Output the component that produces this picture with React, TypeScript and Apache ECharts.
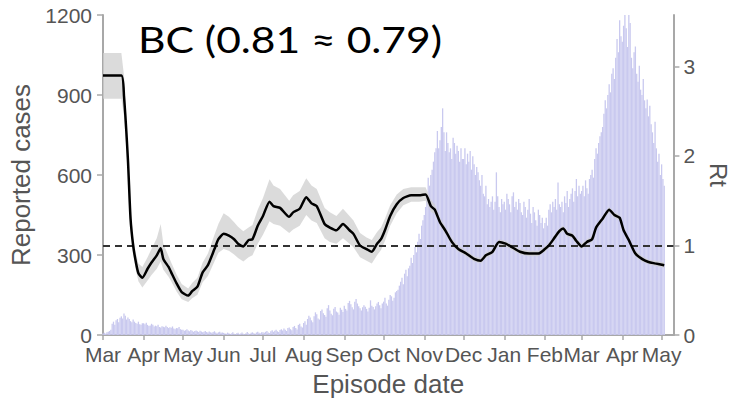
import React, { useEffect, useRef } from 'react';
import * as echarts from 'echarts';

// ---- x axis: day offsets from 2020-03-01 of month starts, and labels
const monthLabels = ['Mar', 'Apr', 'May', 'Jun', 'Jul', 'Aug', 'Sep', 'Oct', 'Nov', 'Dec', 'Jan', 'Feb', 'Mar', 'Apr', 'May'];
const monthStartDays = [0, 31, 61, 92, 122, 153, 184, 214, 245, 275, 306, 337, 365, 396, 426];

// ---- daily reported cases by episode date
const casesMar2020 = [6, 8, 5, 10, 12, 15, 20, 42, 50, 38, 55, 60, 48, 65, 70, 62, 81, 72, 58, 66, 60, 52, 48, 58, 50, 45, 42, 50, 40, 38, 44];
const casesApr2020 = [44, 40, 46, 38, 34, 36, 42, 38, 32, 35, 33, 38, 30, 28, 33, 31, 29, 35, 30, 26, 29, 27, 32, 24, 22, 26, 25, 30, 22, 20];
const casesMay2020 = [20, 16, 18, 22, 17, 14, 19, 16, 12, 15, 17, 14, 11, 16, 13, 10, 12, 15, 11, 9, 13, 10, 8, 11, 14, 9, 7, 10, 12, 8, 9];
const casesJun2020 = [8, 6, 5, 9, 7, 4, 6, 10, 5, 3, 7, 8, 4, 6, 9, 5, 3, 7, 11, 6, 4, 8, 10, 7, 5, 9, 12, 8, 6, 10];
const casesJul2020 = [10, 8, 12, 15, 9, 7, 14, 18, 12, 16, 20, 14, 11, 19, 22, 17, 24, 20, 15, 26, 28, 22, 18, 30, 34, 26, 21, 38, 42, 32, 28];
const casesAug2020 = [45, 52, 38, 60, 72, 66, 55, 48, 70, 85, 78, 62, 58, 90, 96, 82, 75, 68, 100, 112, 92, 80, 74, 98, 105, 88, 84, 76, 102, 95, 86];
const casesSep2020 = [110, 98, 92, 120, 128, 115, 104, 96, 125, 135, 118, 108, 100, 92, 104, 112, 106, 98, 88, 102, 130, 110, 105, 96, 108, 118, 124, 112, 100, 118];
const casesOct2020 = [125, 140, 118, 110, 132, 150, 145, 128, 140, 160, 165, 170, 185, 200, 215, 190, 230, 245, 220, 250, 260, 290, 270, 300, 330, 310, 350, 380, 360, 410, 430];
const casesNov2020 = [450, 480, 520, 590, 560, 600, 620, 650, 685, 700, 765, 700, 730, 780, 850, 760, 690, 760, 720, 685, 700, 660, 740, 720, 680, 710, 690, 650, 700, 660];
const casesDec2020 = [660, 700, 640, 680, 650, 690, 620, 670, 640, 600, 630, 610, 580, 560, 600, 530, 520, 560, 490, 510, 480, 500, 520, 470, 500, 610, 520, 480, 460, 510, 490];
const casesJan2021 = [500, 470, 530, 510, 490, 460, 520, 535, 480, 500, 470, 510, 495, 460, 450, 500, 480, 440, 470, 510, 455, 420, 480, 460, 430, 410, 470, 450, 420, 440, 400];
const casesFeb2021 = [420, 440, 410, 470, 490, 460, 500, 480, 510, 470, 572, 490, 480, 500, 460, 520, 495, 540, 480, 510, 530, 550, 500, 540, 585, 520, 560, 530];
const casesMar2021 = [540, 560, 520, 580, 550, 530, 585, 600, 620, 590, 660, 700, 680, 720, 745, 760, 780, 830, 880, 850, 900, 940, 910, 980, 1000, 960, 1040, 1110, 1060, 1180, 1120];
const casesApr2021 = [1100, 1160, 1200, 1150, 1080, 1200, 1170, 1040, 1000, 1060, 1082, 980, 950, 1010, 920, 900, 960, 880, 850, 883, 820, 860, 790, 760, 720, 800, 700, 650, 680, 600];
const casesMay2021 = [640, 585, 560];

// ---- Rt estimate (day offset, mean, lower and upper of the grey band)
const rtDays = [0, 14, 16, 19, 21, 23, 25, 27, 30, 34, 37, 41, 44, 46, 50, 52, 56, 60, 65, 68, 72, 76, 80, 85, 88, 92, 96, 100, 103, 107, 111, 114, 118, 122, 127, 130, 135, 142, 145, 150, 155, 159, 163, 169, 173, 178, 183, 188, 191, 196, 201, 205, 209, 212, 215, 219, 224, 229, 235, 241, 246, 250, 253, 257, 261, 266, 271, 277, 283, 288, 292, 297, 302, 307, 312, 318, 325, 332, 337, 340, 344, 348, 351, 354, 358, 361, 365, 369, 373, 376, 381, 386, 390, 394, 397, 401, 406, 411, 416, 421, 428];
const rtValues = [2.9, 2.9, 2.67, 1.96, 1.3, 1.0, 0.82, 0.69, 0.64, 0.74, 0.81, 0.89, 0.97, 0.85, 0.76, 0.7, 0.58, 0.48, 0.44, 0.49, 0.54, 0.7, 0.78, 0.96, 1.07, 1.13, 1.11, 1.07, 1.02, 0.99, 1.06, 1.07, 1.22, 1.33, 1.49, 1.44, 1.42, 1.32, 1.37, 1.41, 1.54, 1.47, 1.44, 1.24, 1.2, 1.17, 1.24, 1.17, 1.13, 1.0, 0.96, 0.93, 1.02, 1.07, 1.17, 1.33, 1.46, 1.53, 1.56, 1.56, 1.57, 1.44, 1.4, 1.26, 1.17, 1.04, 0.96, 0.91, 0.85, 0.83, 0.89, 0.93, 1.04, 1.02, 0.98, 0.93, 0.91, 0.91, 0.96, 1.0, 1.08, 1.16, 1.19, 1.13, 1.11, 1.05, 0.99, 1.04, 1.07, 1.2, 1.3, 1.4, 1.34, 1.31, 1.17, 1.06, 0.91, 0.85, 0.815, 0.8, 0.78];
const rtLower = [2.64, 2.64, 2.45, 1.84, 1.2, 0.92, 0.73, 0.6, 0.53, 0.61, 0.67, 0.74, 0.82, 0.73, 0.65, 0.6, 0.49, 0.4, 0.37, 0.41, 0.45, 0.59, 0.66, 0.82, 0.92, 0.96, 0.94, 0.9, 0.86, 0.82, 0.87, 0.89, 1.02, 1.12, 1.27, 1.24, 1.22, 1.14, 1.18, 1.22, 1.34, 1.28, 1.25, 1.08, 1.04, 1.02, 1.08, 1.02, 0.98, 0.87, 0.83, 0.8, 0.89, 0.95, 1.05, 1.22, 1.36, 1.45, 1.49, 1.49, 1.5, 1.38, 1.35, 1.22, 1.13, 1.0, 0.93, 0.88, 0.82, 0.8, 0.86, 0.9, 1.01, 0.99, 0.95, 0.9, 0.88, 0.88, 0.93, 0.97, 1.05, 1.13, 1.16, 1.1, 1.08, 1.02, 0.96, 1.01, 1.04, 1.17, 1.27, 1.37, 1.31, 1.28, 1.14, 1.03, 0.88, 0.82, 0.79, 0.77, 0.75];
const rtUpper = [3.15, 3.15, 2.9, 2.1, 1.4, 1.09, 0.92, 0.8, 0.76, 0.87, 0.96, 1.08, 1.24, 1.02, 0.88, 0.81, 0.68, 0.57, 0.52, 0.58, 0.64, 0.81, 0.91, 1.12, 1.24, 1.36, 1.32, 1.26, 1.21, 1.16, 1.2, 1.23, 1.4, 1.53, 1.74, 1.67, 1.63, 1.5, 1.56, 1.61, 1.75, 1.67, 1.63, 1.42, 1.37, 1.33, 1.41, 1.33, 1.28, 1.14, 1.09, 1.06, 1.15, 1.2, 1.3, 1.45, 1.57, 1.63, 1.65, 1.65, 1.65, 1.51, 1.46, 1.31, 1.21, 1.08, 1.0, 0.94, 0.88, 0.86, 0.92, 0.96, 1.07, 1.05, 1.01, 0.96, 0.94, 0.94, 0.99, 1.03, 1.11, 1.19, 1.22, 1.16, 1.14, 1.08, 1.02, 1.07, 1.1, 1.23, 1.33, 1.43, 1.37, 1.34, 1.2, 1.09, 0.94, 0.88, 0.84, 0.83, 0.81];

// ---- axis ticks and texts
const leftTicks = [0, 300, 600, 900, 1200];
const rightTicks = [0, 1, 2, 3];
const titleText = 'BC (0.81 \u2248 0.79)';
const xName = 'Episode date';
const leftName = 'Reported cases';
const rightName = 'Rt';

const FONT = '"Liberation Sans", Arial, sans-serif';
const AXIS_GREY = '#a8a8a8';
const TEXT_GREY = '#555555';

export default function App() {
  const ref = useRef<HTMLDivElement>(null);

  useEffect(() => {
    if (!ref.current) return;
    const chart = echarts.init(ref.current, null, { renderer: 'svg' });

    const cases = [
      ...casesMar2020, ...casesApr2020, ...casesMay2020, ...casesJun2020, ...casesJul2020,
      ...casesAug2020, ...casesSep2020, ...casesOct2020, ...casesNov2020, ...casesDec2020,
      ...casesJan2021, ...casesFeb2021, ...casesMar2021, ...casesApr2021, ...casesMay2021,
    ];
    const barData = cases.map((v, i) => [i, v]);
    const rtData = rtDays.map((d, i) => [d, rtValues[i]]);

    chart.setOption({
      animation: false,
      grid: { left: 103, right: 51, top: 15, bottom: 65, containLabel: false },
      xAxis: {
        type: 'value',
        min: 0,
        max: 435,
        axisLine: { show: true, onZero: false, lineStyle: { color: AXIS_GREY, width: 2 } },
        axisTick: { show: true, length: 5, customValues: monthStartDays, lineStyle: { color: AXIS_GREY, width: 1.5 } },
        axisLabel: {
          customValues: monthStartDays,
          formatter: (v: number) => {
            const idx = monthStartDays.indexOf(Math.round(v));
            return idx >= 0 ? monthLabels[idx] : '';
          },
          fontSize: 21,
          color: TEXT_GREY,
          fontFamily: FONT,
          margin: 9,
        },
        splitLine: { show: false },
        name: xName,
        nameLocation: 'middle',
        nameGap: 36,
        nameTextStyle: { fontSize: 26, color: TEXT_GREY, fontFamily: FONT },
      },
      yAxis: [
        {
          type: 'value',
          position: 'left',
          min: 0,
          max: 1200,
          axisLine: { show: true, lineStyle: { color: AXIS_GREY, width: 2 } },
          axisTick: { show: true, length: 6, customValues: leftTicks, lineStyle: { color: AXIS_GREY, width: 1.5 } },
          axisLabel: {
            customValues: leftTicks,
            formatter: (v: number) => String(Math.round(v)),
            fontSize: 21,
            color: TEXT_GREY,
            fontFamily: FONT,
            margin: 11,
          },
          splitLine: { show: false },
          name: leftName,
          nameLocation: 'middle',
          nameGap: 62,
          nameRotate: 90,
          nameTextStyle: { fontSize: 26, color: TEXT_GREY, fontFamily: FONT },
        },
        {
          type: 'value',
          position: 'right',
          min: 0,
          max: 3.575,
          axisLine: { show: true, lineStyle: { color: AXIS_GREY, width: 2 } },
          axisTick: { show: true, length: 6, customValues: rightTicks, lineStyle: { color: AXIS_GREY, width: 1.5 } },
          axisLabel: {
            customValues: rightTicks,
            formatter: (v: number) => String(Math.round(v)),
            fontSize: 21,
            color: TEXT_GREY,
            fontFamily: FONT,
            margin: 10,
          },
          splitLine: { show: false },
          name: rightName,
          nameLocation: 'middle',
          nameGap: 24,
          nameRotate: -90,
          nameTextStyle: { fontSize: 24, color: TEXT_GREY, fontFamily: FONT },
        },
      ],
      series: [
        {
          type: 'bar',
          name: 'cases',
          xAxisIndex: 0,
          yAxisIndex: 0,
          data: barData,
          barWidth: 1.3,
          itemStyle: { color: '#c9c9ef' },
          z: 2,
        },
        {
          type: 'custom',
          name: 'band',
          xAxisIndex: 0,
          yAxisIndex: 1,
          data: [[rtDays[0], rtValues[0]]],
          renderItem: (params: any, api: any) => {
            if (params.dataIndex !== 0) return null;
            const top = rtDays.map((d, i) => api.coord([d, rtUpper[i]]));
            const bottom = rtDays.map((d, i) => api.coord([d, rtLower[i]])).reverse();
            return {
              type: 'polygon',
              shape: { points: top.concat(bottom) },
              style: { fill: '#cfcfcf', opacity: 0.75 },
            };
          },
          z: 3,
          silent: true,
        },
        {
          type: 'line',
          name: 'Rt',
          xAxisIndex: 0,
          yAxisIndex: 1,
          data: rtData,
          symbol: 'none',
          smooth: 0.2,
          lineStyle: { color: '#000000', width: 2.5 },
          z: 5,
          markLine: {
            silent: true,
            symbol: 'none',
            label: { show: false },
            lineStyle: { color: '#333333', width: 1.8, type: [7, 5] },
            data: [{ yAxis: 1 }],
          },
        },
      ],
      graphic: [
        {
          type: 'text',
          x: 138,
          y: 39,
          scaleX: 1.15,
          z: 10,
          style: {
            text: titleText,
            fontSize: 37,
            fontFamily: 'Lato, "Open Sans", sans-serif',
            fill: '#000000',
            verticalAlign: 'middle',
            textVerticalAlign: 'middle',
          },
        },
      ],
    });

    return () => chart.dispose();
  }, []);

  return <div ref={ref} style={{ position: 'absolute', left: 0, top: 0, width: 738, height: 402 }} />;
}
